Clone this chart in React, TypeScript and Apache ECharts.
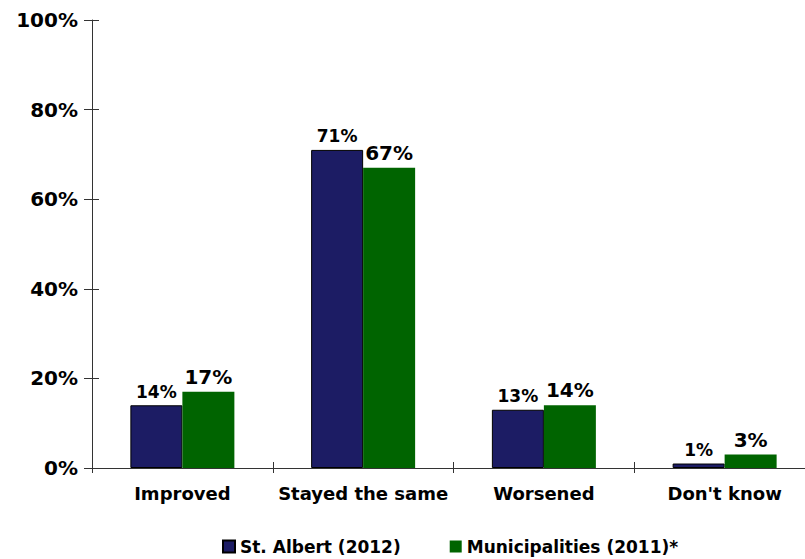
import React, { useEffect, useRef } from "react";
import * as echarts from "echarts";

const categories = ["Improved", "Stayed the same", "Worsened", "Don't know"];
const stAlbert = [14, 71, 13, 1];
const municipalities = [17, 67, 14, 3];
const seriesNames = ["St. Albert (2012)", "Municipalities (2011)*"];

const FONT = "DejaVu Sans";

export default function App() {
  const ref = useRef<HTMLDivElement>(null);
  useEffect(() => {
    if (!ref.current) return;
    const chart = echarts.init(ref.current, undefined, { renderer: "svg" });
    const axisColor = "#333333";
    chart.setOption({
      animation: false,
      backgroundColor: "#ffffff",
      grid: { left: 92, top: 20, right: 0, bottom: 91, containLabel: false },
      legend: {
        left: 222,
        top: 538,
        padding: 0,
        itemWidth: 12,
        itemHeight: 12,
        itemGap: 49,
        icon: "rect",
        textStyle: { fontFamily: FONT, fontWeight: "bold", fontSize: 17, color: "#000" },
        data: seriesNames,
      },
      xAxis: [
        {
          type: "category",
          data: categories,
          position: "bottom",
          axisLine: { lineStyle: { color: axisColor, width: 1 } },
          axisTick: { show: true, length: 5, interval: 0, lineStyle: { color: axisColor } },
          axisLabel: {
            interval: 0,
            fontFamily: FONT,
            fontWeight: "bold",
            fontSize: 18,
            color: "#000",
            margin: 16,
          },
        },
        {
          type: "category",
          data: categories,
          position: "bottom",
          axisLine: { show: false },
          axisTick: { show: true, inside: true, length: 6, interval: 0, lineStyle: { color: axisColor } },
          axisLabel: { show: false },
        },
      ],
      yAxis: [
        {
          type: "value",
          min: 0,
          max: 100,
          interval: 20,
          position: "left",
          splitLine: { show: false },
          axisLine: { show: true, lineStyle: { color: axisColor, width: 1 } },
          axisTick: { show: true, length: 8, lineStyle: { color: axisColor } },
          axisLabel: {
            formatter: "{value}%",
            fontFamily: FONT,
            fontWeight: "bold",
            fontSize: 20,
            color: "#000",
            margin: 14,
          },
        },
        {
          type: "value",
          min: 0,
          max: 100,
          interval: 20,
          position: "left",
          splitLine: { show: false },
          axisLine: { show: false },
          axisTick: { show: true, inside: true, length: 7, lineStyle: { color: axisColor } },
          axisLabel: { show: false },
        },
      ],
      series: [
        {
          name: seriesNames[0],
          type: "bar",
          data: stAlbert,
          barWidth: 52,
          barGap: "0%",
          itemStyle: { color: "#1c1c64", borderColor: "#000000", borderWidth: 1 },
          label: {
            show: true,
            position: "top",
            distance: 5,
            formatter: "{c}%",
            fontFamily: FONT,
            fontWeight: "bold",
            fontSize: 17,
            color: "#000",
          },
        },
        {
          name: seriesNames[1],
          type: "bar",
          data: municipalities,
          barWidth: 52,
          barGap: "0%",
          itemStyle: { color: "#006400" },
          label: {
            show: true,
            position: "top",
            distance: 5,
            formatter: "{c}%",
            fontFamily: FONT,
            fontWeight: "bold",
            fontSize: 20,
            color: "#000",
          },
        },
      ],
    });
    return () => chart.dispose();
  }, []);
  return (
    <div
      style={{
        position: "fixed",
        left: 0,
        top: 0,
        width: 805,
        height: 559,
        overflow: "hidden",
        background: "#fff",
      }}
    >
      <div ref={ref} style={{ width: 815, height: 559 }} />
    </div>
  );
}
